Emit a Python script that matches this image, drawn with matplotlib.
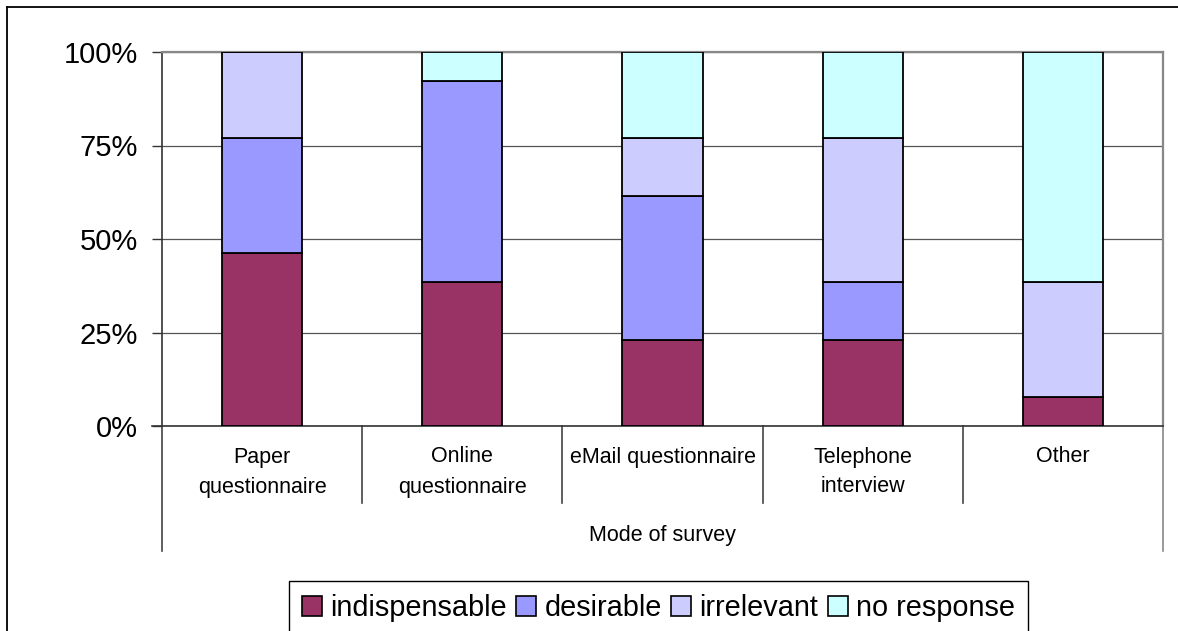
import matplotlib
matplotlib.use("Agg")
import matplotlib.pyplot as plt
from matplotlib.lines import Line2D
from matplotlib.patches import Patch
import numpy as np

plt.rcParams['font.family'] = ['Liberation Sans', 'DejaVu Sans']

# Survey modes (category axis) and response shares in percent
categories = ["Paper\nquestionnaire", "Online\nquestionnaire", "eMail questionnaire",
              "Telephone\ninterview", "Other"]
series_names = ["indispensable", "desirable", "irrelevant", "no response"]
indispensable = [46.2, 38.5, 23.1, 23.1, 7.7]
desirable = [30.8, 53.8, 38.5, 15.4, 0.0]
irrelevant = [23.0, 0.0, 15.4, 38.5, 30.8]
no_response = [0.0, 7.7, 23.0, 22.9, 61.5]
y_ticks = [0, 25, 50, 75, 100]
y_tick_labels = ["0%", "25%", "50%", "75%", "100%"]
x_title = "Mode of survey"

colors = ["#993366", "#9999FF", "#CCCCFF", "#CCFFFF"]

W, H = 1178, 631
fig = plt.figure(figsize=(W / 100, H / 100), dpi=100)
fig.patch.set_facecolor("white")

# outer chart frame (top and left edges visible)
fig.add_artist(Line2D([7 / W, 7 / W], [1 - 7 / H, -0.05], color="black", lw=1.3,
                      transform=fig.transFigure))
fig.add_artist(Line2D([7 / W, 1.05], [1 - 7 / H, 1 - 7 / H], color="black", lw=1.3,
                      transform=fig.transFigure))

left, right, top, bottom = 162, 1163, 52, 426
ax = fig.add_axes([left / W, 1 - bottom / H, (right - left) / W, (bottom - top) / H])

x = np.arange(len(categories))
series = [indispensable, desirable, irrelevant, no_response]
base = np.zeros(len(categories))
for name, vals, col in zip(series_names, series, colors):
    vals = np.array(vals)
    ax.bar(x, vals, width=0.4, bottom=base, color=col, edgecolor="black",
           linewidth=1.3, label=name, zorder=3)
    base += vals

ax.set_xlim(-0.5, len(categories) - 0.5)
ax.set_ylim(0, 100)
ax.set_yticks(y_ticks)
ax.set_yticklabels(y_tick_labels, fontsize=21)
ax.tick_params(axis="y", length=7.5, width=1, color="#333333", pad=10)
ax.set_xticks([])

ax.yaxis.grid(True, color="#555555", lw=0.9, zorder=0)
ax.set_axisbelow(True)
ax.spines["left"].set_color("#333333")
ax.spines["left"].set_linewidth(1.2)
ax.spines["bottom"].set_color("#333333")
ax.spines["bottom"].set_linewidth(1.2)
ax.spines["top"].set_color("#888888")
ax.spines["top"].set_linewidth(1.6)
ax.spines["right"].set_color("#888888")
ax.spines["right"].set_linewidth(1.6)

# extend the 0% line left as a tick mark
ax.plot([-0.5 - 10 / 200.2, -0.5], [0, 0], color="#333333", lw=1.2, clip_on=False)

# category dividers below the axis
ph = bottom - top
inner_y = -(503 - bottom) / ph
outer_y = -(551 - bottom) / ph
trans = ax.get_xaxis_transform()
for i in range(len(categories) + 1):
    xd = i - 0.5
    yb = outer_y if i in (0, len(categories)) else inner_y
    c = "#888888" if i == len(categories) else "#444444"
    ax.plot([xd, xd], [0, yb], color=c, lw=1.2, transform=trans, clip_on=False)

# category labels, one text per line
line_y = [-(457 - bottom) / ph, -(487 - bottom) / ph]
for xi, lab in zip(x, categories):
    for j, part in enumerate(lab.split("\n")):
        ax.text(xi, line_y[j], part, transform=trans, ha="center", va="center",
                fontsize=15.5, color="black")

ax.text(0.5, -(535 - bottom) / ph, x_title, transform=ax.transAxes, ha="center",
        va="center", fontsize=15.5)

handles = [Patch(facecolor=c, edgecolor="black", linewidth=1.2) for c in colors]
leg = fig.legend(handles, series_names, loc="upper left",
                 bbox_to_anchor=(289 / W, 1 - 581 / H), ncol=4, frameon=True,
                 fancybox=False, edgecolor="black", framealpha=1,
                 prop={"size": 20.8},
                 handlelength=0.7, handleheight=0.68, handletextpad=0.28,
                 columnspacing=0.32, borderpad=0.45, borderaxespad=0)
leg.get_frame().set_linewidth(1.0)

fig.savefig("out.png", dpi=100, facecolor="white")
